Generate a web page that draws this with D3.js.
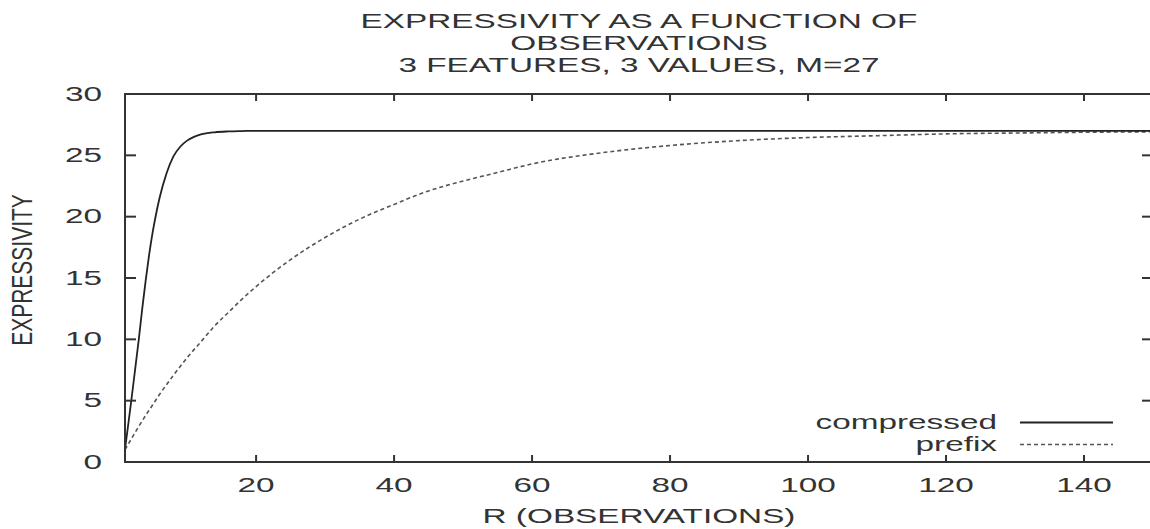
<!DOCTYPE html>
<html>
<head>
<meta charset="utf-8">
<script src="https://cdn.jsdelivr.net/npm/d3@7"></script>
<style>
  body { margin: 0; background: #fff; }
  svg { display: block; }
  text { font-family: "Liberation Sans", Arial, Helvetica, sans-serif; fill: #333; }
</style>
</head>
<body>
<div id="chart"></div>
<script>
// values
const titleLines = ["EXPRESSIVITY AS A FUNCTION OF", "OBSERVATIONS", "3 FEATURES, 3 VALUES, M=27"];
const xTicks = [20, 40, 60, 80, 100, 120, 140];
const yTicks = [0, 5, 10, 15, 20, 25, 30];

const compressedR = [1, 1.5, 2, 2.5, 3, 3.5, 4, 4.5, 5, 5.5, 6, 7, 8, 9, 10, 11, 12, 14, 16, 18, 20, 30, 60, 100, 150];
const compressedE = [1.0, 3.2, 5.4, 7.7, 10.0, 12.5, 14.8, 16.9, 18.7, 20.2, 21.5, 23.5, 24.9, 25.7, 26.2, 26.5, 26.7, 26.88, 26.95, 26.98, 27.0, 27.0, 27.0, 27.0, 27.0];

const prefixR = [1, 2, 3, 4, 5, 6, 8, 10, 12, 14, 16, 18, 20, 25, 30, 35, 40, 45, 50, 55, 60, 70, 80, 90, 100, 110, 120, 130, 140, 150];
const prefixE = [1.0, 1.96, 2.9, 3.8, 4.65, 5.5, 7.05, 8.5, 9.8, 11.1, 12.2, 13.3, 14.3, 16.5, 18.3, 19.8, 21.0, 22.1, 22.9, 23.6, 24.3, 25.2, 25.8, 26.2, 26.45, 26.6, 26.75, 26.82, 26.88, 26.92];

const width = 1150, height = 529;
const plotL = 125, plotR = 1153, plotT = 94, plotB = 462;
const fs = 19.5;  // one font for everything
const sx = 1.71;  // the original picture is stretched sideways

const svg = d3.select("#chart").append("svg")
    .attr("width", width)
    .attr("height", height);

const x = d3.scaleLinear().domain([1, 150]).range([plotL, plotR]);
const y = d3.scaleLinear().domain([0, 30]).range([plotB, plotT]);

// title
svg.append("g")
    .selectAll("text")
    .data(titleLines)
    .join("text")
    .attr("transform", (d, i) => `translate(${(plotL + plotR) / 2},${28 + i * 22}) scale(${sx},1.04)`)
    .attr("text-anchor", "middle")
    .style("font-size", fs + "px")
    .text(d => d);

// clip for the curves
svg.append("clipPath").attr("id", "clip")
    .append("rect")
    .attr("x", plotL).attr("y", plotT)
    .attr("width", plotR - plotL).attr("height", plotB - plotT);

const line = d3.line()
    .x(d => x(d[0]))
    .y(d => y(d[1]))
    .curve(d3.curveMonotoneX);

const curves = svg.append("g").attr("clip-path", "url(#clip)");

curves.append("path")
    .datum(prefixR.map((r, i) => [r, prefixE[i]]))
    .attr("d", line)
    .attr("fill", "none")
    .attr("stroke", "#555")
    .attr("stroke-width", 1.6)
    .attr("stroke-dasharray", "4,3");

curves.append("path")
    .datum(compressedR.map((r, i) => [r, compressedE[i]]))
    .attr("d", line)
    .attr("fill", "none")
    .attr("stroke", "#222")
    .attr("stroke-width", 1.8);

// ticks, inward on all four sides
const ticks = svg.append("g").attr("stroke", "#333").attr("stroke-width", 2);
ticks.selectAll(".xt").data(xTicks).join("line")
    .attr("x1", d => x(d)).attr("x2", d => x(d))
    .attr("y1", plotB).attr("y2", plotB - 7);
ticks.selectAll(".xtt").data(xTicks).join("line")
    .attr("x1", d => x(d)).attr("x2", d => x(d))
    .attr("y1", plotT).attr("y2", plotT + 7);
ticks.selectAll(".yt").data(yTicks.slice(1, -1)).join("line")
    .attr("x1", plotL).attr("x2", plotL + 11)
    .attr("y1", d => y(d)).attr("y2", d => y(d));
ticks.selectAll(".ytr").data(yTicks.slice(1, -1)).join("line")
    .attr("x1", plotR).attr("x2", plotR - 11)
    .attr("y1", d => y(d)).attr("y2", d => y(d));

// frame
svg.append("rect")
    .attr("x", plotL).attr("y", plotT)
    .attr("width", plotR - plotL).attr("height", plotB - plotT)
    .attr("fill", "none")
    .attr("stroke", "#333")
    .attr("stroke-width", 2);

// tick labels
svg.append("g")
    .selectAll("text")
    .data(yTicks)
    .join("text")
    .attr("transform", d => `translate(102,${y(d)}) scale(${sx},1)`)
    .attr("text-anchor", "end")
    .attr("dy", "0.35em")
    .style("font-size", fs + "px")
    .text(d => d);

svg.append("g")
    .selectAll("text")
    .data(xTicks)
    .join("text")
    .attr("transform", d => `translate(${x(d)},492) scale(${sx},1)`)
    .attr("text-anchor", "middle")
    .style("font-size", fs + "px")
    .text(d => d);

// axis titles
svg.append("text")
    .attr("transform", `translate(${(plotL + plotR) / 2},523) scale(${sx},1)`)
    .attr("text-anchor", "middle")
    .style("font-size", fs + "px")
    .text("R (OBSERVATIONS)");

svg.append("text")
    .attr("transform", "translate(32,270) rotate(-90) scale(1.05,1.45)")
    .attr("text-anchor", "middle")
    .style("font-size", "20px")
    .text("EXPRESSIVITY");

// legend
const legend = [
    { name: "compressed", dash: null, color: "#222" },
    { name: "prefix", dash: "4,3", color: "#555" }
];
const lg = svg.append("g");
legend.forEach((d, i) => {
    const ly = 422.5 + i * 22;
    lg.append("text")
        .attr("transform", `translate(997,${ly}) scale(${sx},1)`)
        .attr("text-anchor", "end")
        .attr("dy", "0.35em")
        .style("font-size", fs + "px")
        .text(d.name);
    lg.append("line")
        .attr("x1", 1020).attr("x2", 1113)
        .attr("y1", ly).attr("y2", ly)
        .attr("stroke", d.color)
        .attr("stroke-width", d.dash ? 1.6 : 1.8)
        .attr("stroke-dasharray", d.dash);
});
</script>
</body>
</html>
